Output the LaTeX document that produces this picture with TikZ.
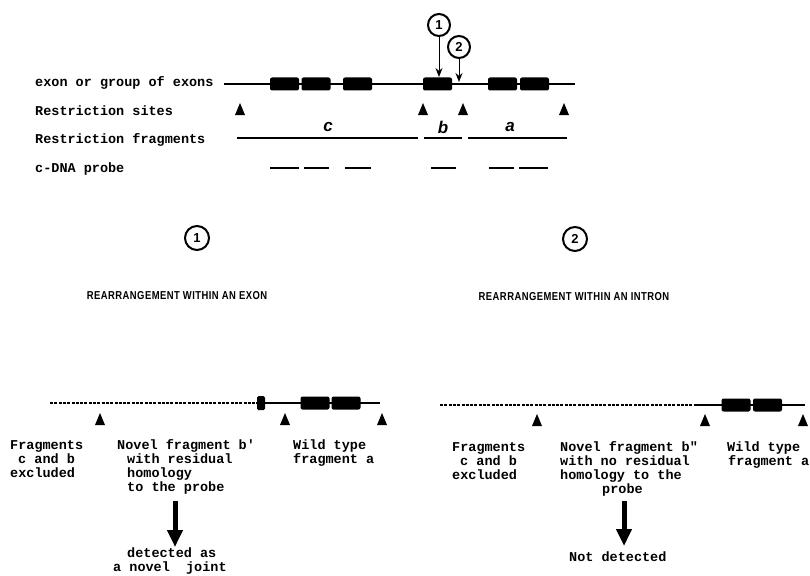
\documentclass[tikz,border=0pt]{standalone}
\usepackage{fontspec}
\usetikzlibrary{arrows.meta}
\newfontfamily\monofam{Liberation Mono}
\newfontfamily\sansfam{Liberation Sans}
\newfontfamily\narrowfam[FakeStretch=0.82,LetterSpace=4]{Liberation Sans}
\begin{document}
\begin{tikzpicture}[x=1pt,y=-1pt,
  txt/.style={font=\monofam\bfseries\fontsize{13.5}{14}\selectfont, anchor=base west, inner sep=0pt},
  caps/.style={font=\narrowfam\bfseries\fontsize{11.5}{14}\selectfont, inner sep=0pt},
  letter/.style={font=\sansfam\bfseries\itshape\fontsize{17}{17}\selectfont, inner sep=0pt},
  num/.style={circle, draw, line width=2pt, minimum size=22pt, inner sep=0pt, font=\sansfam\bfseries\fontsize{13}{13}\selectfont},
  exon/.style={rectangle, rounded corners=2pt, fill=black, minimum width=29pt, minimum height=13pt, inner sep=0pt},
  smallexon/.style={rectangle, rounded corners=1.5pt, fill=black, minimum width=8pt, minimum height=14pt, inner sep=0pt},
  gene/.style={line width=1.5pt},
  dashline/.style={line width=1.6pt, dash pattern=on 3pt off 1.3pt},
  frag/.style={line width=2.5pt},
  probe/.style={line width=1.5pt},
  thin arrow/.style={line width=1pt, -{Stealth[length=9pt,width=7pt]}},
  big arrow/.style={line width=5pt, -{Triangle[length=17pt,width=15pt]}},
  rsite/.pic={\fill (-5,6) -- (0,-6) -- (5,6) -- cycle;}
]
\useasboundingbox (0,0) rectangle (810,575);

% ---------- top: gene map ----------
\node[txt] (L1) at (35,87) {exon or group of exons};
\node[txt] (L2) at (35,115) {Restriction sites};
\node[txt] (L3) at (35,143) {Restriction fragments};
\node[txt] (L4) at (35,172) {c-DNA probe};

\coordinate (m0) at (224,84);
\coordinate (m1) at (575,84);
\draw[gene] (m0) -- (m1);
\node[exon] (e1) at (284.5,84) {};
\node[exon] (e2) at (316,84) {};
\node[exon] (e3) at (357.5,84) {};
\node[exon] (eb) at (437.5,84) {};
\node[exon] (e5) at (502.5,84) {};
\node[exon] (e6) at (534.5,84) {};

\node[num] (n1) at (439,25) {1};
\node[num] (n2) at (459,47) {2};
\coordinate (t1) at (439,77);
\coordinate (t2) at (459,82);
\draw[thin arrow] (n1.south) -- (t1);
\draw[thin arrow] (n2.south) -- (t2);

\pic at (240,109) {rsite};
\pic at (423,109) {rsite};
\pic at (463,109) {rsite};
\pic at (564,109) {rsite};

\coordinate (fc0) at (237,138); \coordinate (fc1) at (418,138);
\coordinate (fb0) at (424,138); \coordinate (fb1) at (462,138);
\coordinate (fa0) at (468,138); \coordinate (fa1) at (567,138);
\draw[frag] (fc0) -- (fc1);
\draw[frag] (fb0) -- (fb1);
\draw[frag] (fa0) -- (fa1);
\node[letter] (lc) at (328,127) {c};
\node[letter] (lb) at (443,127) {b};
\node[letter] (la) at (510,127) {a};

\draw[probe] (270,168) -- (299,168);
\draw[probe] (304,168) -- (329,168);
\draw[probe] (345,168) -- (371,168);
\draw[probe] (431,168) -- (456,168);
\draw[probe] (489,168) -- (514,168);
\draw[probe] (519,168) -- (548,168);

% ---------- middle headings ----------
\node[num, minimum size=24pt] (m1c) at (197,238) {1};
\node[num, minimum size=24pt] (m2c) at (575,239) {2};
\node[caps] (h1) at (177,296) {REARRANGEMENT WITHIN AN EXON};
\node[caps] (h2) at (574,297) {REARRANGEMENT WITHIN AN INTRON};

% ---------- bottom left ----------
\coordinate (a0) at (50,403);
\coordinate (a1) at (257,403);
\coordinate (a2) at (265,403);
\coordinate (a3) at (380,403);
\draw[dashline] (a0) -- (a1);
\node[smallexon] (sx) at (261,403) {};
\draw[gene] (a2) -- (a3);
\node[exon] (ae1) at (315,403) {};
\node[exon] (ae2) at (346,403) {};
\pic at (100,419) {rsite};
\pic at (285,419) {rsite};
\pic at (382,419) {rsite};

\node[txt] at (10,449) {Fragments};
\node[txt] at (18,463) {c and b};
\node[txt] at (10,477) {excluded};
\node[txt] at (117,449) {Novel fragment b'};
\node[txt] at (127,463) {with residual};
\node[txt] at (127,477) {homology};
\node[txt] (hp) at (127,491) {to the probe};
\node[txt] at (293,449) {Wild type};
\node[txt] at (293,463) {fragment a};

\coordinate (ba0) at (175,501);
\coordinate (ba1) at (175,547);
\draw[big arrow] (ba0) -- (ba1);
\node[txt] at (127,557) {detected as};
\node[txt] at (113,571) {a novel~~joint};

% ---------- bottom right ----------
\coordinate (b0) at (440,405);
\coordinate (b1) at (697,405);
\coordinate (b2) at (805,405);
\draw[dashline] (b0) -- (b1);
\draw[gene] (b1) -- (b2);
\node[exon] (be1) at (736,405) {};
\node[exon] (be2) at (767.5,405) {};
\pic at (537,420) {rsite};
\pic at (705,420) {rsite};
\pic at (803,420) {rsite};

\node[txt] at (452,451) {Fragments};
\node[txt] at (460,465) {c and b};
\node[txt] at (452,479) {excluded};
\node[txt] at (560,451) {Novel fragment b"};
\node[txt] at (560,465) {with no residual};
\node[txt] at (560,479) {homology to the};
\node[txt] at (602,493) {probe};
\node[txt] at (727,451) {Wild type};
\node[txt] at (728,465) {fragment a};

\coordinate (bb0) at (624,501);
\coordinate (bb1) at (624,546);
\draw[big arrow] (bb0) -- (bb1);
\node[txt] at (569,561) {Not detected};
\end{tikzpicture}
\end{document}
